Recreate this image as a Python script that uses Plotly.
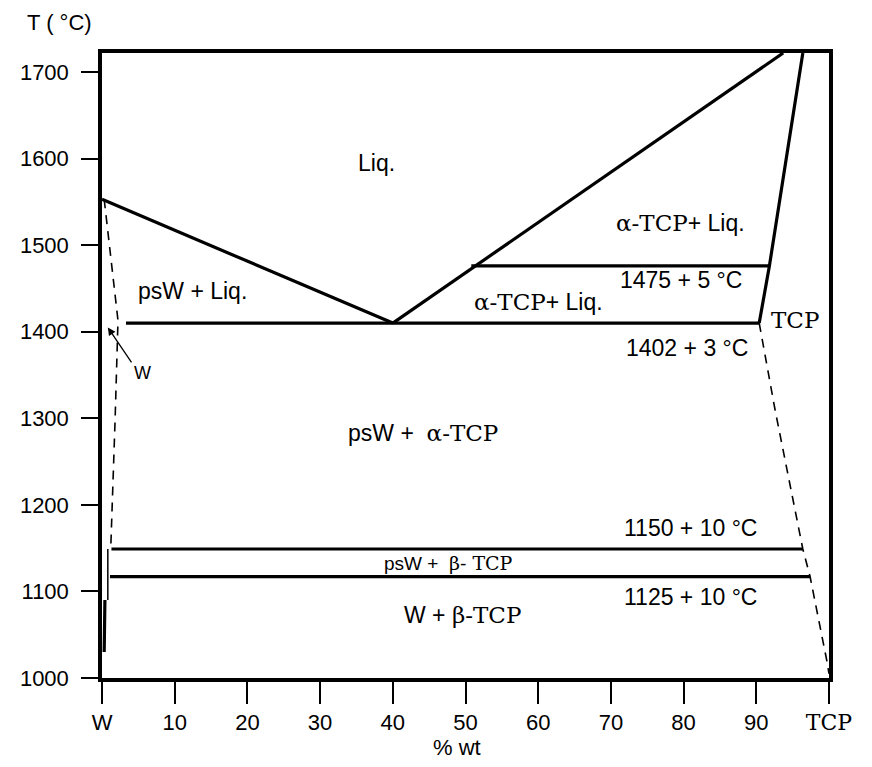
import plotly.graph_objects as go

# ---- data (composition in % wt TCP, temperature in °C) ----
liq_left_x = [0, 40]
liq_left_T = [1553, 1410]

liq_right_x = [40, 93.7]
liq_right_T = [1410, 1722]

tcp_sol_x = [96.4, 91.8, 90.4]
tcp_sol_T = [1722, 1476, 1410]

tcp_solvus_x = [90.4, 92.6, 96.4, 97.4, 99.7, 100]
tcp_solvus_T = [1410, 1309, 1149, 1117, 1020, 1005]

w_solvus_x = [0.3, 2.2, 1.8, 1.2]
w_solvus_T = [1553, 1413, 1298, 1149]

w_low_x = [0.8, 0.8]
w_low_T = [1149, 1090]
w_low2_x = [0.4, 0.3]
w_low2_T = [1090, 1030]

iso_1475_x = [50.8, 91.8]
iso_1475_T = [1476, 1476]
iso_1402_x = [3.3, 90.4]
iso_1402_T = [1410, 1410]
iso_1150_x = [1.3, 96.4]
iso_1150_T = [1149, 1149]
iso_1125_x = [1.1, 97.4]
iso_1125_T = [1117, 1117]

SER = 'DejaVu Serif'
def s(t):
    return '<span style="font-family:%s">%s</span>' % (SER, t)

label_text = [
    "Liq.",
    s("α-TCP") + "+ Liq.",
    "psW + Liq.",
    "1475 + 5 °C",
    s("α-TCP") + "+ Liq.",
    s("TCP"),
    "1402 + 3 °C",
    "psW +  " + s("α-TCP"),
    "1150 + 10 °C",
    "1125 + 10 °C",
    "W + " + s("β-TCP"),
]
label_x = [37.7, 79.6, 12.5, 79.7, 60.1, 95.3, 80.4, 44.2, 81.0, 81.0, 49.6]
label_T = [1595, 1526, 1447, 1460, 1434, 1413, 1381, 1283, 1173, 1093, 1073]

small_label_text = ["psW +  " + s("β- TCP")]
small_label_x = [47.7]
small_label_T = [1133]

x_tickvals = [0, 10, 20, 30, 40, 50, 60, 70, 80, 90, 100]
x_ticktext = ["W", "10", "20", "30", "40", "50", "60", "70", "80", "90", s("TCP")]
y_tickvals = [1000, 1100, 1200, 1300, 1400, 1500, 1600, 1700]

# ---- figure ----
fig = go.Figure()
solid = dict(color="black", width=3.2)
for xs, ts in [(liq_left_x, liq_left_T), (liq_right_x, liq_right_T),
               (tcp_sol_x, tcp_sol_T), (iso_1475_x, iso_1475_T),
               (iso_1402_x, iso_1402_T), (iso_1150_x, iso_1150_T),
               (iso_1125_x, iso_1125_T), (w_low2_x, w_low2_T)]:
    fig.add_trace(go.Scatter(x=xs, y=ts, mode="lines", line=solid,
                             hoverinfo="skip", showlegend=False))
fig.add_trace(go.Scatter(x=w_low_x, y=w_low_T, mode="lines",
                         line=dict(color="black", width=1.5),
                         hoverinfo="skip", showlegend=False))
for xs, ts in [(tcp_solvus_x, tcp_solvus_T), (w_solvus_x, w_solvus_T)]:
    fig.add_trace(go.Scatter(x=xs, y=ts, mode="lines",
                             line=dict(color="black", width=1.6, dash="9px,7px"),
                             hoverinfo="skip", showlegend=False))

font_main = dict(family="Liberation Sans, Arial", size=23, color="black")
font_tick = dict(family="Liberation Sans, Arial", size=22, color="black")
for t, x, y in zip(label_text, label_x, label_T):
    fig.add_annotation(x=x, y=y, text=t, showarrow=False, font=font_main,
                       xanchor="center", yanchor="middle")
for t, x, y in zip(small_label_text, small_label_x, small_label_T):
    fig.add_annotation(x=x, y=y, text=t, showarrow=False,
                       xanchor="center", yanchor="middle",
                       font=dict(family="Liberation Sans, Arial", size=19, color="black"))

# "W" pointer
fig.add_annotation(x=0.8, y=1405, ax=4.2, ay=1363, axref="x", ayref="y",
                   text="", showarrow=True, arrowhead=2, arrowsize=1.2,
                   arrowwidth=1.3, arrowcolor="black")
fig.add_annotation(x=5.6, y=1352, text="W", showarrow=False,
                   xanchor="center", yanchor="middle",
                   font=dict(family="Liberation Sans, Arial", size=18, color="black"))

# axis titles (paper coords relative to the plot frame)
fig.add_annotation(xref="paper", yref="paper", x=-0.058, y=1.0488,
                   xanchor="center", yanchor="middle",
                   text="T ( °C)", showarrow=False, font=font_tick)
fig.add_annotation(xref="paper", yref="paper", x=0.488, y=-0.1104,
                   xanchor="center", yanchor="middle",
                   text="% wt", showarrow=False, font=font_tick)

fig.update_xaxes(range=[0, 100], tickvals=x_tickvals, ticktext=x_ticktext,
                 ticks="outside", ticklen=22, tickwidth=2, tickcolor="black",
                 showline=True, linewidth=3.5, linecolor="black", mirror=True,
                 showgrid=False, zeroline=False, tickfont=font_tick)
fig.update_yaxes(range=[1000, 1722], tickvals=y_tickvals,
                 ticks="outside", ticklen=17, tickwidth=2, tickcolor="black",
                 showline=True, linewidth=3.5, linecolor="black", mirror=True,
                 showgrid=False, zeroline=False, tickfont=font_tick,
                 ticklabelstandoff=8)

# page body has an 8px margin: size the figure so the plot frame lands where the reference has it
fig.update_layout(width=864, height=759, plot_bgcolor="white", paper_bgcolor="white",
                  margin=dict(l=91, r=43, t=45, b=89), showlegend=False)

fig.write_html("out.html")
